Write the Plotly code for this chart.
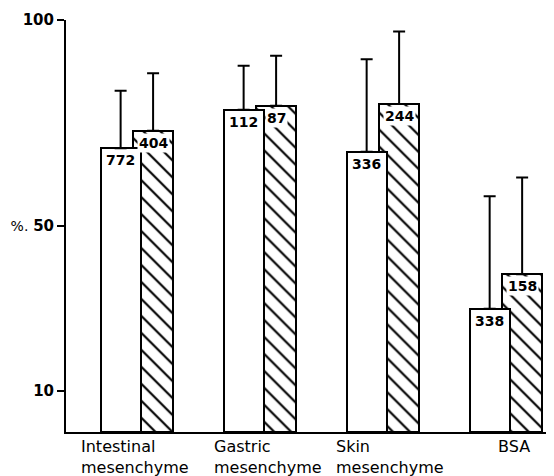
import plotly.graph_objects as go

# ---- data ----
categories = ["Intestinal<br>mesenchyme", "Gastric<br>mesenchyme", "Skin<br>mesenchyme", "BSA"]
white_values = [68.9, 78.2, 68.0, 29.9]
white_upper = [82.8, 88.9, 90.5, 57.2]
white_counts = ["772", "112", "336", "338"]
hatched_values = [73.1, 79.2, 79.6, 38.3]
hatched_upper = [87.1, 91.3, 97.2, 61.8]
hatched_counts = ["404", "87", "244", "158"]
y_tick_values = [10, 50, 100]
y_tick_labels = ["<b>10</b>",
                 "<span style='font-size:14px'>%.</span> <b>50</b>",
                 "<b>100</b>"]

# ---- styling / layout parameters ----
FONT = "DejaVu Sans"
pair_offset = 0.132
bar_width = 0.325
label_shift = [-2, 8, 7, 8]
PAGE_OFFSET = 8  # default body margin of the html page

idx = list(range(len(categories)))
x_white = [i - pair_offset for i in idx]
x_hatched = [i + pair_offset for i in idx]

fig = go.Figure()

# hatched bars first (white ones overlap them)
fig.add_trace(go.Bar(
    x=x_hatched, y=hatched_values, width=bar_width,
    marker=dict(color="white", line=dict(color="black", width=2),
                pattern=dict(shape="\\", fgcolor="black", bgcolor="white",
                             fgopacity=1, size=12, solidity=0.18,
                             fillmode="overlay")),
    error_y=dict(type="data", symmetric=False,
                 array=[u - v for u, v in zip(hatched_upper, hatched_values)],
                 arrayminus=[0] * len(hatched_values),
                 color="black", thickness=2, width=6),
    showlegend=False,
))
fig.add_trace(go.Bar(
    x=x_white, y=white_values, width=bar_width,
    marker=dict(color="white", line=dict(color="black", width=2)),
    error_y=dict(type="data", symmetric=False,
                 array=[u - v for u, v in zip(white_upper, white_values)],
                 arrayminus=[0] * len(white_values),
                 color="black", thickness=2, width=6),
    showlegend=False,
))

# count labels inside bar tops
for xs, vals, labels in ((x_white, white_values, white_counts),
                         (x_hatched, hatched_values, hatched_counts)):
    for x, v, t in zip(xs, vals, labels):
        fig.add_annotation(x=x, y=v, xref="x", yref="y", text="<b>%s</b>" % t,
                           showarrow=False, yanchor="top", xanchor="center",
                           yshift=-2, bgcolor="white", borderpad=1,
                           font=dict(family=FONT, size=14, color="black"))

# category labels below the axis
for i, (c, s) in enumerate(zip(categories, label_shift)):
    fig.add_annotation(x=i, y=0, xref="x", yref="paper", text=c,
                       showarrow=False, xanchor="center", yanchor="top",
                       align="left", xshift=s, yshift=-3,
                       font=dict(family=FONT, size=16, color="black"))

fig.update_layout(
    width=554 - PAGE_OFFSET, height=476 - PAGE_OFFSET, autosize=False,
    margin=dict(l=66 - PAGE_OFFSET, r=0, t=20 - PAGE_OFFSET, b=44,
                autoexpand=False),
    paper_bgcolor="white", plot_bgcolor="white",
    barmode="overlay", bargap=0,
    font=dict(family=FONT, color="black"),
)
fig.update_xaxes(range=[-0.576, 3.391], showgrid=False, zeroline=False,
                 showticklabels=False, ticks="", showline=True,
                 linecolor="black", linewidth=2, automargin=False)
fig.update_yaxes(range=[0, 100], showgrid=False, zeroline=False,
                 showline=True, linecolor="black", linewidth=2,
                 ticks="outside", ticklen=7, tickwidth=2, tickcolor="black",
                 tickvals=y_tick_values, ticktext=y_tick_labels,
                 ticklabelstandoff=0, automargin=False,
                 tickfont=dict(family=FONT, size=15, color="black"))

fig.write_html("out.html")
